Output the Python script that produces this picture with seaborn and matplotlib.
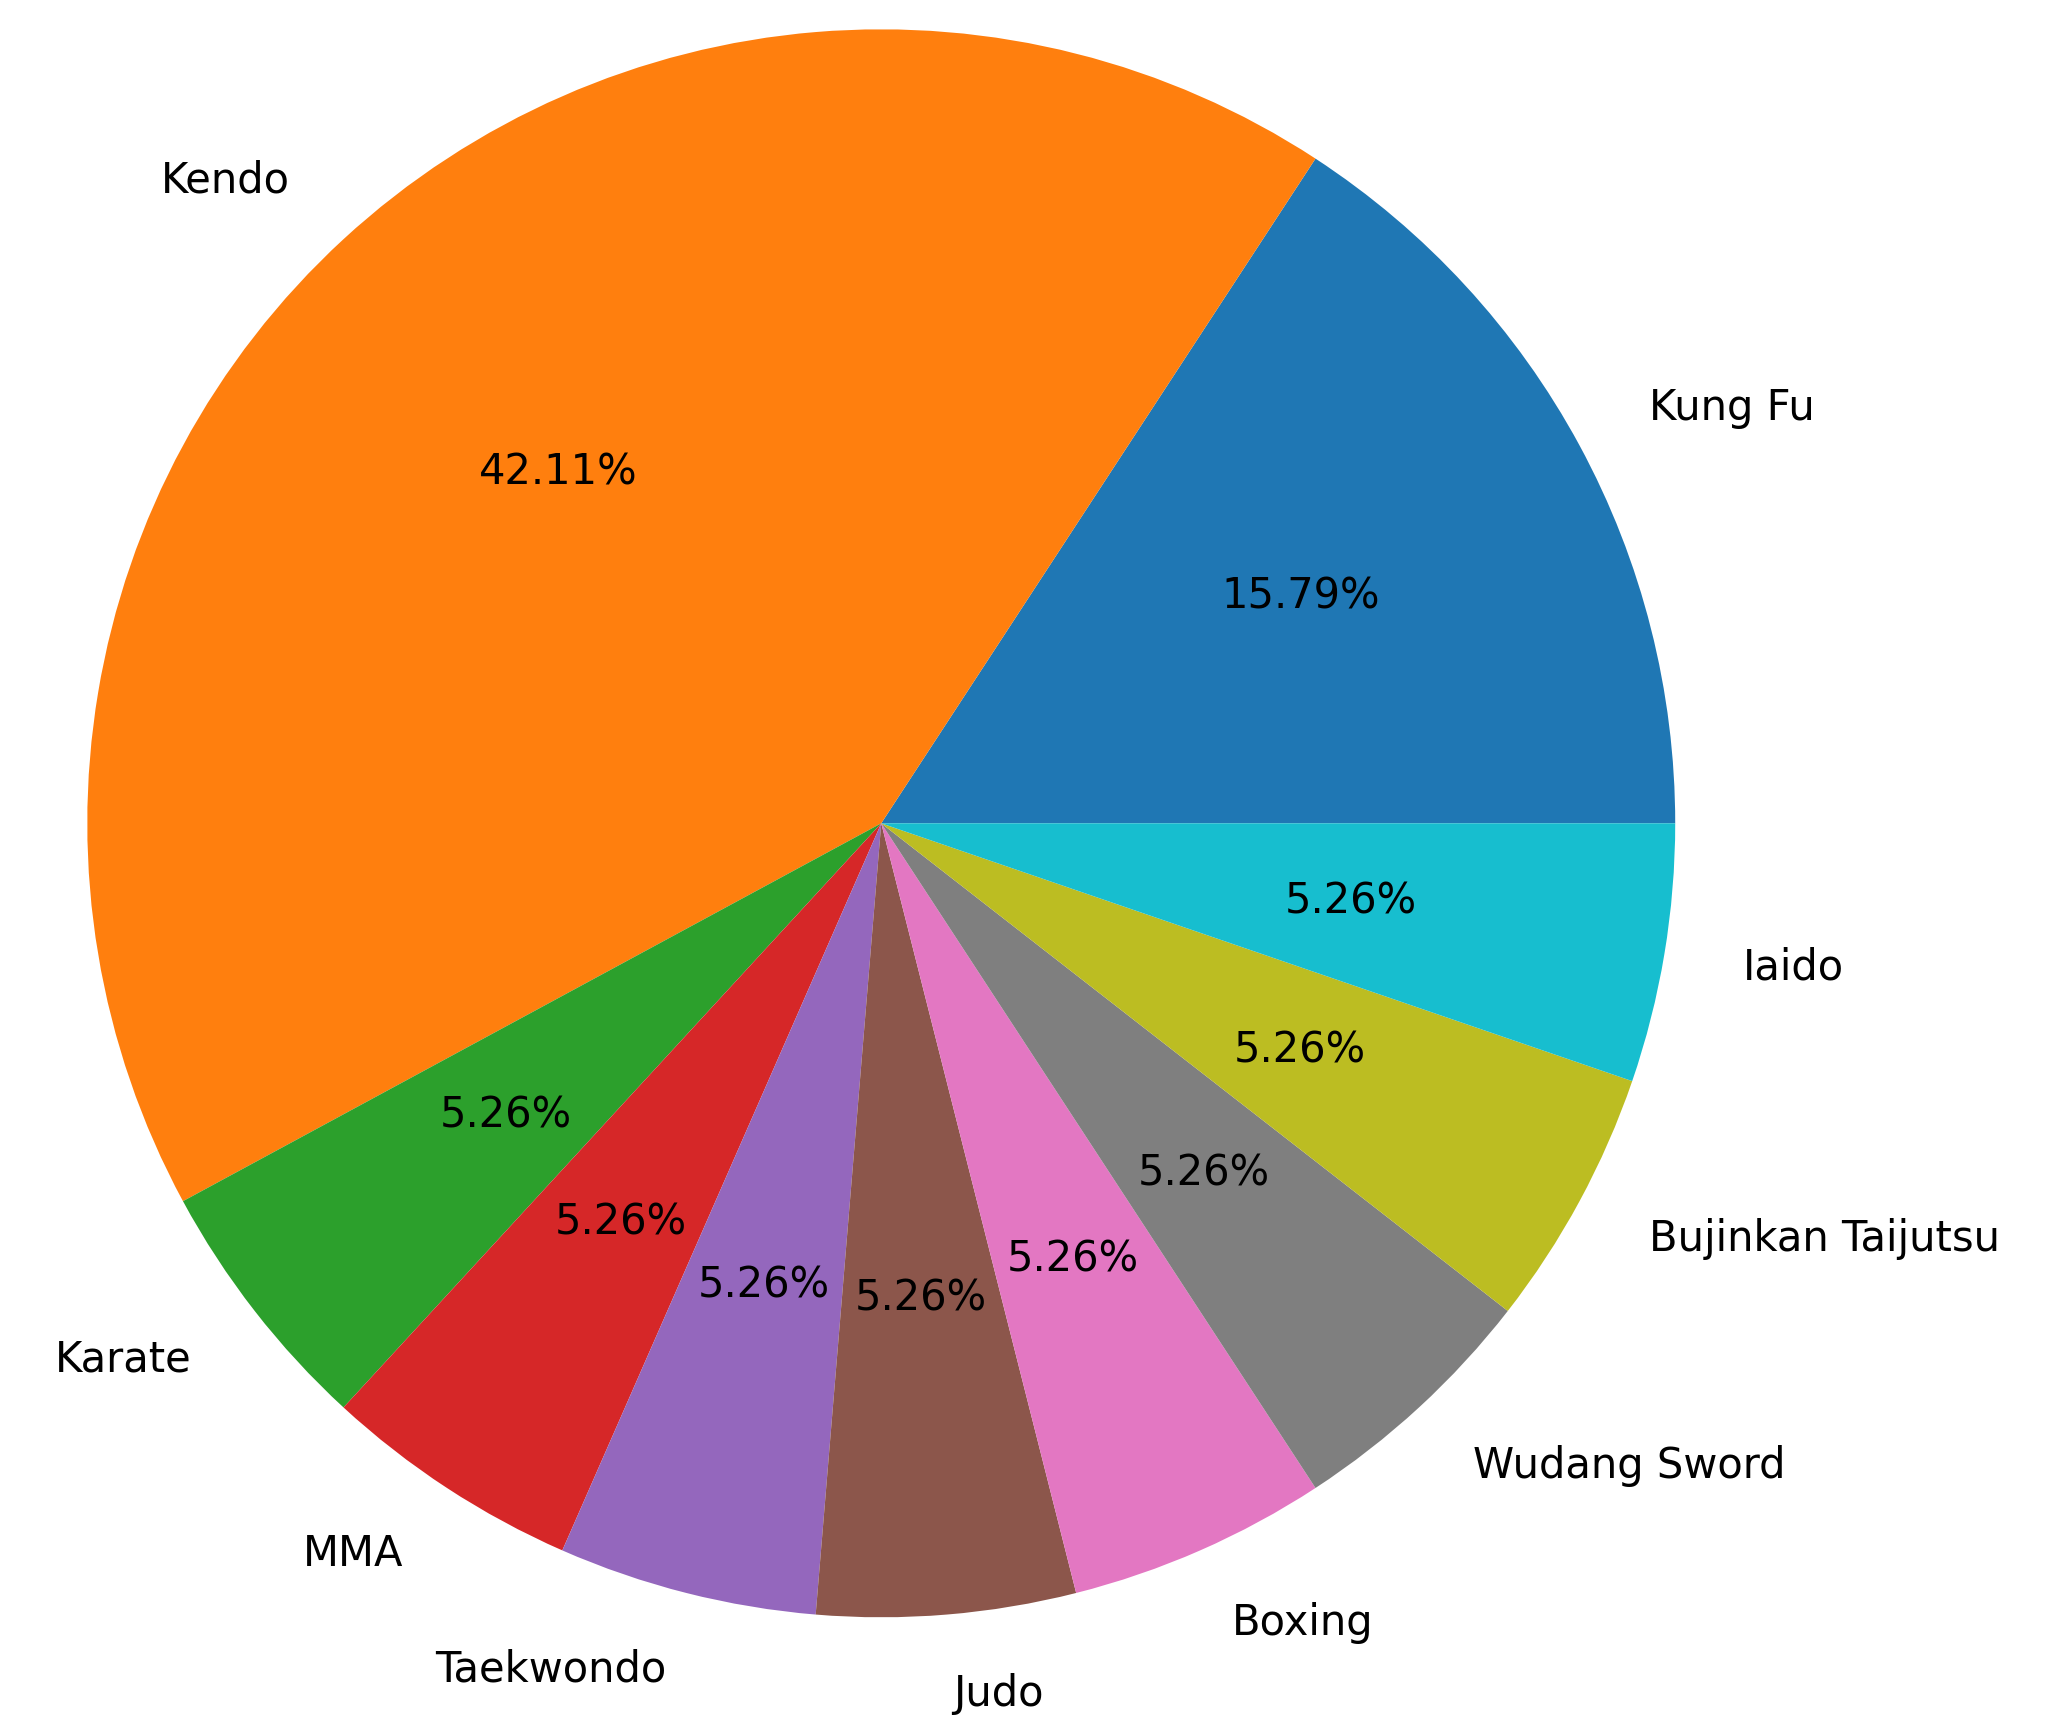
import matplotlib
matplotlib.use("Agg")
import matplotlib.pyplot as plt
import seaborn as sns

labels = ["Kung Fu", "Kendo", "Karate", "MMA", "Taekwondo", "Judo",
          "Boxing", "Wudang Sword", "Bujinkan Taijutsu", "Iaido"]
counts = [3, 8, 1, 1, 1, 1, 1, 1, 1, 1]

colors = sns.color_palette("tab10", n_colors=len(labels))

fig = plt.figure(figsize=(10.295, 8.63), dpi=200)
ax = fig.add_axes([0.041, 0.063, 0.774, 0.92])
ax.pie(counts, labels=labels, colors=colors, autopct="%.2f%%",
       textprops={"fontsize": 15})
ax.set_xlim(-1, 1)
ax.set_ylim(-1, 1)
ax.axis("off")
fig.savefig("out.png", dpi=200)
